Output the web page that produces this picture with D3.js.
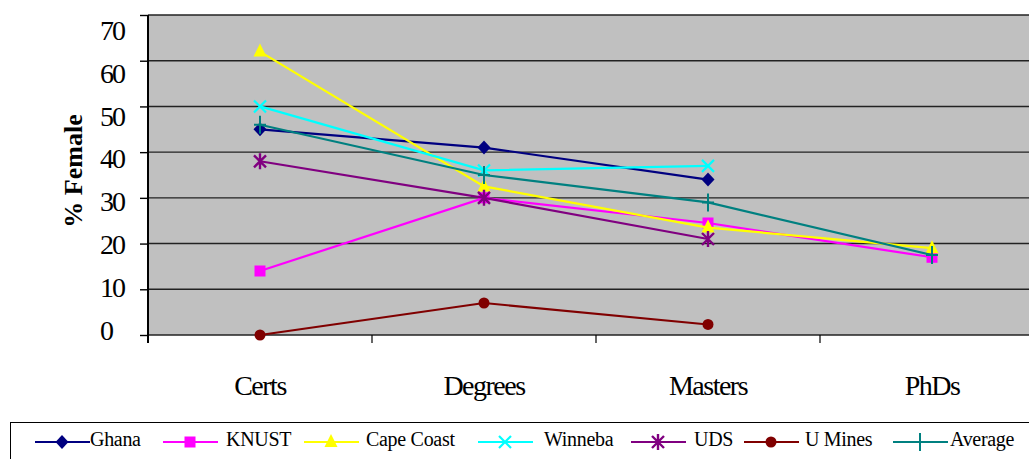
<!DOCTYPE html>
<html>
<head>
<meta charset="utf-8">
<script src="https://cdn.jsdelivr.net/npm/d3@7"></script>
<style>
  html, body { margin: 0; padding: 0; background: #fff; overflow: hidden; }
  svg { display: block; }
  text { font-family: "Liberation Serif", "Times New Roman", serif; fill: #000; }
</style>
</head>
<body>
<svg id="chart" width="1029" height="459"></svg>
<script>
// Share of female staff by qualification level, per university
const categories = ["Certs", "Degrees", "Masters", "PhDs"];
const seriesNames = ["Ghana", "KNUST", "Cape Coast", "Winneba", "UDS", "U Mines", "Average"];

const ghana     = [45, 41, 34, null];
const knust     = [14, 30, 24.5, 17];
const capeCoast = [62, 32.5, 23.5, 19];
const winneba   = [50, 36, 37, null];
const uds       = [38, 30, 21, null];
const uMines    = [0, 7, 2.3, null];
const average   = [46, 35, 29, 17.5];

const yTicks = [0, 10, 20, 30, 40, 50, 60, 70];

const seriesValues = [ghana, knust, capeCoast, winneba, uds, uMines, average];

// Appearance
const colors  = ["#000080", "#FF00FF", "#FFFF00", "#00FFFF", "#800080", "#800000", "#008080"];
const markers = ["diamond", "square", "triangle", "x", "asterisk", "circle", "plus"];
const legendStarts = [35, 163, 304, 478, 631, 744, 893];
const legendTextOffsets = [55, 63, 62, 66, 63, 61, 57];

const svg = d3.select("#chart");

const plot = { left: 148, right: 1044, top: 15, bottom: 335 };

const x = d3.scaleBand().domain(categories).range([plot.left, plot.right]).paddingInner(0).paddingOuter(0);
const y = d3.scaleLinear().domain([0, 70]).range([plot.bottom, plot.top]);
// tick labels sit on their own slightly tighter scale
const yLabel = d3.scaleLinear().domain([0, 70]).range([330, 30]);
const cx = c => x(c) + x.bandwidth() / 2;

// plot background
svg.append("rect")
  .attr("x", plot.left).attr("y", plot.top)
  .attr("width", plot.right - plot.left).attr("height", plot.bottom - plot.top)
  .attr("fill", "#C0C0C0");

// horizontal gridlines
svg.append("g")
  .selectAll("line")
  .data(yTicks)
  .join("line")
  .attr("x1", plot.left).attr("x2", plot.right)
  .attr("y1", d => y(d)).attr("y2", d => y(d))
  .attr("stroke", "#222").attr("stroke-width", 1.4);

// y axis with outward ticks
const yAxis = svg.append("g")
  .attr("transform", `translate(${plot.left},0)`)
  .call(d3.axisLeft(y).tickValues(yTicks).tickSize(8).tickSizeOuter(0).tickFormat(""));
yAxis.select(".domain").attr("stroke", "#000").attr("stroke-width", 2)
  .attr("d", `M0,${plot.top}V${plot.bottom + 8}`);
yAxis.selectAll(".tick line").attr("stroke", "#000").attr("stroke-width", 1.4);

// y tick labels
svg.append("g")
  .selectAll("text")
  .data(yTicks)
  .join("text")
  .attr("x", 100)
  .attr("y", d => yLabel(d))
  .attr("dy", "0.35em")
  .attr("font-size", 28)
  .attr("letter-spacing", -2)
  .text(d => d);

// x axis category boundary ticks
const boundaries = categories.map(c => x(c)).concat([x(categories[categories.length - 1]) + x.bandwidth()]);
svg.append("g")
  .selectAll("line")
  .data(boundaries.slice(1))
  .join("line")
  .attr("x1", d => d).attr("x2", d => d)
  .attr("y1", plot.bottom).attr("y2", plot.bottom + 8)
  .attr("stroke", "#000").attr("stroke-width", 1.2);

// x category labels
svg.append("g")
  .selectAll("text")
  .data(categories)
  .join("text")
  .attr("x", d => cx(d))
  .attr("y", 395)
  .attr("text-anchor", "middle")
  .attr("font-size", 28)
  .attr("letter-spacing", -1.5)
  .text(d => d);

// y axis title
svg.append("text")
  .attr("transform", "translate(82,171) rotate(-90)")
  .attr("text-anchor", "middle")
  .attr("font-size", 26)
  .attr("font-weight", "bold")
  .text("% Female");

// marker drawing
function drawMarker(g, type, color) {
  switch (type) {
    case "diamond":
      g.append("path").attr("d", "M0,-7L6.5,0L0,7L-6.5,0Z").attr("fill", color);
      break;
    case "square":
      g.append("rect").attr("x", -5.5).attr("y", -5.5).attr("width", 11).attr("height", 11).attr("fill", color);
      break;
    case "triangle":
      g.append("path").attr("d", "M0,-8L6.5,5L-6.5,5Z").attr("fill", color);
      break;
    case "x":
      g.append("path").attr("d", "M-6,-6L6,6M6,-6L-6,6").attr("stroke", color).attr("stroke-width", 2.2).attr("fill", "none");
      break;
    case "asterisk":
      g.append("path").attr("d", "M-6,-6L6,6M6,-6L-6,6M0,-8L0,8").attr("stroke", color).attr("stroke-width", 2.4).attr("fill", "none");
      break;
    case "circle":
      g.append("circle").attr("r", 5.5).attr("fill", color);
      break;
    case "plus":
      g.append("path").attr("d", "M0,-9L0,9M-6,0L6,0").attr("stroke", color).attr("stroke-width", 2).attr("fill", "none");
      break;
  }
}

const line = d3.line()
  .defined(d => d.v !== null)
  .x(d => cx(d.c))
  .y(d => y(d.v));

// series lines and markers
seriesNames.forEach((name, i) => {
  const pts = categories.map((c, j) => ({ c, v: seriesValues[i][j] }));
  const g = svg.append("g").attr("class", "series");
  g.append("path")
    .attr("d", line(pts))
    .attr("fill", "none")
    .attr("stroke", colors[i])
    .attr("stroke-width", 2.2);
  pts.filter(p => p.v !== null).forEach(p => {
    const m = g.append("g").attr("transform", `translate(${cx(p.c)},${y(p.v)})`);
    drawMarker(m, markers[i], colors[i]);
  });
});

// legend
svg.append("rect")
  .attr("x", 10.5).attr("y", 422.5)
  .attr("width", 1040).attr("height", 60)
  .attr("fill", "#fff").attr("stroke", "#000").attr("stroke-width", 1);

const legendY = 442;
seriesNames.forEach((name, i) => {
  const x0 = legendStarts[i];
  const g = svg.append("g");
  g.append("line")
    .attr("x1", x0).attr("x2", x0 + 55)
    .attr("y1", legendY).attr("y2", legendY)
    .attr("stroke", colors[i]).attr("stroke-width", 2.2);
  drawMarker(g.append("g").attr("transform", `translate(${x0 + 27},${legendY})`), markers[i], colors[i]);
  g.append("text")
    .attr("x", x0 + legendTextOffsets[i])
    .attr("y", 446)
    .attr("font-size", 20)
    .attr("letter-spacing", -0.3)
    .text(name);
});
</script>
</body>
</html>
